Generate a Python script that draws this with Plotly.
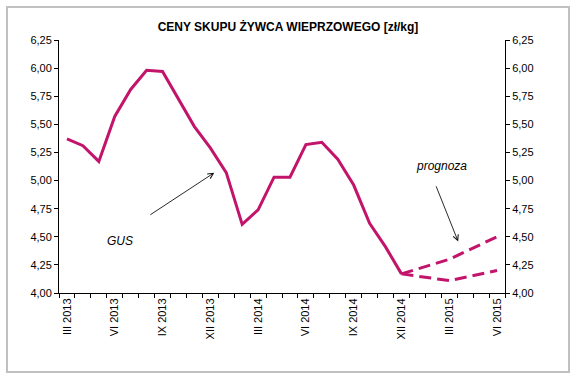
import plotly.graph_objects as go

# ---- data ----
months = [
    "III 2013", "IV 2013", "V 2013", "VI 2013", "VII 2013", "VIII 2013", "IX 2013",
    "X 2013", "XI 2013", "XII 2013", "I 2014", "II 2014", "III 2014", "IV 2014",
    "V 2014", "VI 2014", "VII 2014", "VIII 2014", "IX 2014", "X 2014", "XI 2014",
    "XII 2014", "I 2015", "II 2015", "III 2015", "IV 2015", "V 2015", "VI 2015",
]
gus = [5.37, 5.31, 5.17, 5.57, 5.81, 5.98, 5.97, 5.72, 5.48, 5.29, 5.07, 4.61,
       4.74, 5.03, 5.03, 5.32, 5.34, 5.19, 4.96, 4.62, 4.41, 4.17]
forecast_high = {"XII 2014": 4.17, "III 2015": 4.30, "VI 2015": 4.50}
forecast_low = {"XII 2014": 4.17, "III 2015": 4.11, "VI 2015": 4.20}
tick_labels = ["III 2013", "VI 2013", "IX 2013", "XII 2013", "III 2014",
               "VI 2014", "IX 2014", "XII 2014", "III 2015", "VI 2015"]
y_ticks = [4.00, 4.25, 4.50, 4.75, 5.00, 5.25, 5.50, 5.75, 6.00, 6.25]

title = "CENY SKUPU ŻYWCA WIEPRZOWEGO [zł/kg]"

# ---- derived ----
xi = list(range(len(months)))
idx = {m: i for i, m in enumerate(months)}
gus_x = xi[:len(gus)]
fh_x = [idx[m] for m in forecast_high]
fh_y = list(forecast_high.values())
fl_x = [idx[m] for m in forecast_low]
fl_y = list(forecast_low.values())
tick_pos = [idx[m] for m in tick_labels]

COLOR = "#C3146C"
FONT = "Liberation Sans, Arial, sans-serif"

fig = go.Figure()
fig.add_trace(go.Scatter(x=gus_x, y=gus, mode="lines",
                         line=dict(color=COLOR, width=3), showlegend=False,
                         hoverinfo="skip"))
fig.add_trace(go.Scatter(x=fh_x, y=fh_y, mode="lines",
                         line=dict(color=COLOR, width=3, dash="12px,6px"),
                         showlegend=False, hoverinfo="skip"))
fig.add_trace(go.Scatter(x=fl_x, y=fl_y, mode="lines",
                         line=dict(color=COLOR, width=3, dash="12px,6px"),
                         showlegend=False, hoverinfo="skip"))
# invisible trace to carry the right-hand axis
fig.add_trace(go.Scatter(x=gus_x, y=gus, mode="lines", yaxis="y2",
                         line=dict(color="rgba(0,0,0,0)", width=0),
                         showlegend=False, hoverinfo="skip"))

W, H = 576, 381
L, R, T, B = 59, 71, 40, 88
pw, ph = W - L - R, H - T - B

def px_x(p):
    return (p - L) / pw

def px_y(p):
    return (H - B - p) / ph

fig.update_layout(
    width=W, height=H,
    margin=dict(l=L, r=R, t=T, b=B),
    paper_bgcolor="white", plot_bgcolor="white",
    separators=", ",
    font=dict(family=FONT, size=11, color="black"),
    title=dict(text="<b>" + title + "</b>", x=0.5, xanchor="center",
               y=1 - 27 / H, yanchor="middle", xref="container", yref="container",
               font=dict(family=FONT, size=12, color="black")),
    xaxis=dict(range=[-0.5, len(months) - 0.5], tickmode="array",
               tickvals=tick_pos, ticktext=tick_labels, tickangle=-90,
               ticks="", showline=True, linecolor="black", linewidth=1,
               showgrid=False, zeroline=False, automargin=False,
               tickfont=dict(family=FONT, size=11, color="black"),
               minor=dict(tick0=-0.5, dtick=1, ticks="outside", ticklen=4,
                          tickcolor="black", tickwidth=1, showgrid=False)),
    yaxis=dict(range=[4, 6.25], tickmode="array", tickvals=y_ticks,
               tickformat=".2f", ticks="outside", ticklen=4, tickcolor="black",
               showline=True, linecolor="black", linewidth=1, showgrid=False,
               zeroline=False, automargin=False,
               tickfont=dict(family=FONT, size=11, color="black")),
    yaxis2=dict(range=[4, 6.25], tickmode="array", tickvals=y_ticks,
                tickformat=".2f", ticks="outside", ticklen=4, tickcolor="black",
                overlaying="y", side="right", anchor="x", automargin=False,
                showline=True, linecolor="black", linewidth=1, showgrid=False,
                zeroline=False, tickfont=dict(family=FONT, size=11, color="black")),
    shapes=[dict(type="rect", xref="paper", yref="paper",
                 x0=px_x(7), x1=px_x(569), y0=px_y(372), y1=px_y(7),
                 line=dict(color="#C0C0C0", width=2), layer="below")],
    annotations=[
        dict(x=9.25, y=5.07, ax=5.14, ay=4.687, xref="x", yref="y",
             axref="x", ayref="y", text="", showarrow=True, arrowhead=5,
             arrowsize=1.2, arrowwidth=0.9, arrowcolor="#111111"),
        dict(x=3.34, y=4.46, xref="x", yref="y", text="GUS", showarrow=False,
             font=dict(family=FONT, size=12, color="black", style="italic")),
        dict(x=24.56, y=4.458, ax=23.14, ay=4.962, xref="x", yref="y",
             axref="x", ayref="y", text="", showarrow=True, arrowhead=5,
             arrowsize=1.2, arrowwidth=0.9, arrowcolor="#111111"),
        dict(x=23.5, y=5.126, xref="x", yref="y", text="prognoza", showarrow=False,
             font=dict(family=FONT, size=12, color="black", style="italic")),
    ],
)

fig.write_html("out.html",
               config={"displayModeBar": False, "staticPlot": True},
               post_script="document.body.style.margin='0px';"
                           "document.body.style.overflow='hidden';")
